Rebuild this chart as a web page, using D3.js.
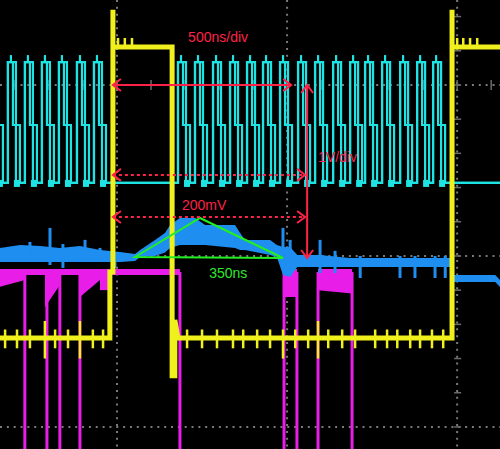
<!DOCTYPE html>
<html>
<head>
<meta charset="utf-8">
<script src="https://cdn.jsdelivr.net/npm/d3@7"></script>
<style>
  body { margin: 0; background: #000; }
  svg { display: block; }
</style>
</head>
<body>
<svg width="500" height="449"></svg>
<script>
// time in ns (0 = trigger), level in divisions (0 = middle graticule line)
var gridTimes = [-500, 0, 500, 1000],
    gridLevels = [-1, 0, 1];

// CH2 (cyan) clock pulses, centre of each pulse
var cyanPulses = [-356, -306, -256, -206, -156, -103, -53,
    194, 244, 297, 347, 397, 444, 494, 547, 597, 650, 700, 744, 794, 847, 897, 944];
var cyanLow = 0.427, cyanMid = 0.766, cyanHigh = 1.134;

// CH1 (yellow)
var yellowPath = [[-344, -0.48], [-21, -0.48], [-21, -0.094], [-12, -0.094], [-12, 1.44], [-12, 1.222],
    [162, 1.222], [162, -0.70], [170, -0.70], [170, -0.374], [179, -0.48],
    [985, -0.48], [985, 1.44], [985, 1.222], [1126, 1.222]];
var yellowSpikes = [[-329, -0.43, -0.54], [-294, -0.43, -0.54], [-256, -0.43, -0.54], [-212, -0.38, -0.60],
    [-182, -0.43, -0.54], [-144, -0.43, -0.54], [-109, -0.38, -0.60], [-71, -0.43, -0.54], [-41, -0.43, -0.54],
    [206, -0.43, -0.54], [250, -0.43, -0.54], [294, -0.43, -0.54], [341, -0.43, -0.54], [371, -0.43, -0.54],
    [412, -0.43, -0.54], [450, -0.43, -0.54], [488, -0.43, -0.60], [524, -0.43, -0.54], [562, -0.43, -0.54],
    [591, -0.38, -0.60], [621, -0.43, -0.54], [662, -0.43, -0.54], [700, -0.43, -0.54], [759, -0.43, -0.54],
    [794, -0.43, -0.54], [824, -0.43, -0.54], [862, -0.43, -0.54], [891, -0.43, -0.54], [926, -0.43, -0.54],
    [959, -0.43, -0.54]];
var yellowGlitches = [3, 23, 44, 1000, 1018, 1038, 1059];

// CH3 (blue) envelope: time, top, bottom
var blueBand = [[-344, 0.047, -0.035], [-285, 0.064, -0.035], [-226, 0.058, -0.035], [-168, 0.047, -0.035],
    [-109, 0.058, -0.035], [-50, 0.035, -0.035], [9, 0.023, -0.035], [53, 0.012, -0.03], [68, 0.035, -0.006],
    [112, 0.094, 0.0], [141, 0.135, 0.02], [156, 0.181, 0.047], [185, 0.222, 0.064], [230, 0.222, 0.064],
    [259, 0.181, 0.064], [347, 0.181, 0.047], [362, 0.135, 0.035], [376, 0.094, 0.035], [450, 0.094, 0.006],
    [470, 0.064, -0.006], [488, 0.052, -0.111], [509, 0.052, -0.123], [530, 0.006, -0.064], [597, 0.006, -0.064],
    [685, -0.012, -0.064], [979, -0.012, -0.064], [985, -0.111, -0.152], [1112, -0.111, -0.152],
    [1126, -0.14, -0.181]];
var blueSpikes = [[-256, 0.082, 0], [-197, 0.164, -0.053], [-159, 0.07, -0.07], [-94, 0.094, 0], [-50, 0.047, 0],
    [-6, 0, -0.07], [488, 0.164, 0], [509, 0.094, 0], [597, 0.094, -0.1], [641, 0.03, -0.1], [715, 0, -0.129],
    [832, 0, -0.129], [876, 0, -0.129], [935, 0, -0.129], [965, 0, -0.129]];

// CH4 (magenta)
var magentaHigh = -0.094;
var magentaSegments = [[-344, 185], [491, 529], [591, 691]];
var magentaDrops = [-271, -206, -168, -109, 185, 491, 529, 591, 691];
var magentaBursts = [[-344, -271, -0.18, -0.14], [-212, -168, -0.30, -0.17], [-109, -50, -0.24, -0.14],
    [-50, -21, -0.20, -0.20], [491, 529, -0.24, -0.24], [591, 691, -0.20, -0.22]];

// annotations
var solidArrowsH = [[-12, 512, 1.0]],
    dottedArrowsH = [[-12, 553, 0.474], [-12, 553, 0.228]],
    solidArrowsV = [[559, 1.0, -0.012]];
var triangle = [[53, -0.006], [244, 0.222], [488, -0.012]];
var redLabels = [["500ns/div", 209, 1.251], ["1V/div", 591, 0.55], ["200mV", 191, 0.269]],
    greenLabels = [["350ns", 271, -0.129]];

var svg = d3.select("svg"),
    width = +svg.attr("width"),
    height = +svg.attr("height");

var x = d3.scaleLinear().domain([-344, 1126]).range([0, width]),
    y = d3.scaleLinear().domain([-1.129, 1.497]).range([height, 0]);

var line = d3.line()
    .x(function(d) { return x(d[0]); })
    .y(function(d) { return y(d[1]); });

svg.append("rect").attr("width", width).attr("height", height).attr("fill", "#000");

// graticule
var grid = svg.append("g")
    .attr("stroke", "#7a7a7a")
    .attr("stroke-width", 2)
    .attr("stroke-dasharray", "2,4.84");

grid.selectAll(".gv").data(gridTimes).enter().append("line")
    .attr("x1", function(d) { return x(d); }).attr("x2", function(d) { return x(d); })
    .attr("y1", 0).attr("y2", height);

grid.selectAll(".gh").data(gridLevels).enter().append("line")
    .attr("x1", 0).attr("x2", width)
    .attr("y1", function(d) { return y(d); }).attr("y2", function(d) { return y(d); });

var minor = svg.append("g").attr("stroke", "#6a6a6a").attr("stroke-width", 1.5);
minor.selectAll(".mt").data(d3.range(-300, 1126, 100)).enter().append("line")
    .attr("x1", function(d) { return x(d); }).attr("x2", function(d) { return x(d); })
    .attr("y1", y(1) - 5).attr("y2", y(1) + 5);
minor.selectAll(".ml").data(d3.range(-1, 1.5, 0.2)).enter().append("line")
    .attr("x1", x(1000) - 3).attr("x2", x(1000) + 4)
    .attr("y1", function(d) { return y(d); }).attr("y2", function(d) { return y(d); });

// CH4 magenta
var mag = svg.append("g").attr("fill", "#e81ee8").attr("stroke", "#e81ee8");
mag.selectAll(".burst").data(magentaBursts).enter().append("path")
    .attr("stroke", "none")
    .attr("d", function(d) {
        return line([[d[0], magentaHigh], [d[1], magentaHigh], [d[1], d[3]], [d[0], d[2]]]) + "Z";
    });
mag.selectAll(".seg").data(magentaSegments).enter().append("line")
    .attr("stroke-width", 6)
    .attr("x1", function(d) { return x(d[0]); }).attr("x2", function(d) { return x(d[1]); })
    .attr("y1", y(magentaHigh)).attr("y2", y(magentaHigh));
mag.selectAll(".drop").data(magentaDrops).enter().append("line")
    .attr("stroke-width", 3)
    .attr("x1", function(d) { return x(d); }).attr("x2", function(d) { return x(d); })
    .attr("y1", y(magentaHigh)).attr("y2", height);

// CH3 blue
var blue = "#1e8ef0";
svg.append("path")
    .datum(blueBand)
    .attr("fill", blue)
    .attr("d", d3.area()
        .x(function(d) { return x(d[0]); })
        .y0(function(d) { return y(d[2]); })
        .y1(function(d) { return y(d[1]); }));
svg.append("g").attr("stroke", blue).attr("stroke-width", 3)
  .selectAll("line").data(blueSpikes).enter().append("line")
    .attr("x1", function(d) { return x(d[0]); }).attr("x2", function(d) { return x(d[0]); })
    .attr("y1", function(d) { return y(d[1]); }).attr("y2", function(d) { return y(d[2]); });

// CH2 cyan: two overlaid captures, one with a half-level step on the falling edge
var cyan = "#1ee3e3",
    yl = y(cyanLow), ym = y(cyanMid), yh = y(cyanHigh);
var pa = "M0," + yl, pb = "M0," + yl;
cyanPulses.forEach(function(c) {
    var cx = x(c);
    pa += "L" + (cx - 5) + "," + yl + "L" + (cx - 5) + "," + yh + "L" + (cx + 3) + "," + yh + "L" + (cx + 3) + "," + yl;
    pb += "L" + (cx - 5) + "," + yl + "L" + (cx - 5) + "," + yh + "L" + cx + "," + yh + "L" + cx + "," + ym +
        "L" + (cx + 7) + "," + ym + "L" + (cx + 7) + "," + yl;
});
pa += "L" + width + "," + yl;
pb += "L" + width + "," + yl;
var cy = svg.append("g").attr("fill", "none").attr("stroke", cyan).attr("stroke-width", 2.2);
cy.append("path").attr("d", pa);
cy.append("path").attr("d", pb);
cy.selectAll(".pk").data(cyanPulses).enter().append("line")
    .attr("x1", function(d) { return x(d) - 2; }).attr("x2", function(d) { return x(d) - 2; })
    .attr("y1", yh).attr("y2", yh - 7);
cy.selectAll(".blk").data(cyanPulses).enter().append("rect")
    .attr("stroke", "none").attr("fill", cyan)
    .attr("x", function(d) { return x(d) + 1; }).attr("y", yl - 3)
    .attr("width", 6).attr("height", 7);

// CH1 yellow
var yellow = "#f0f01c";
var yg = svg.append("g").attr("stroke", yellow).attr("fill", "none");
yg.append("path").datum(yellowPath).attr("stroke-width", 5).attr("d", line);
yg.selectAll(".sp").data(yellowSpikes).enter().append("line")
    .attr("stroke-width", 2.5)
    .attr("x1", function(d) { return x(d[0]); }).attr("x2", function(d) { return x(d[0]); })
    .attr("y1", function(d) { return y(d[1]); }).attr("y2", function(d) { return y(d[2]); });
yg.selectAll(".gl").data(yellowGlitches).enter().append("line")
    .attr("stroke-width", 2.5)
    .attr("x1", function(d) { return x(d); }).attr("x2", function(d) { return x(d); })
    .attr("y1", y(1.222)).attr("y2", y(1.275));

// green triangle
svg.append("path")
    .datum(triangle)
    .attr("fill", "none")
    .attr("stroke", "#22ee22")
    .attr("stroke-width", 2)
    .attr("d", function(d) { return line(d) + "Z"; });

// red measurement arrows
var red = "#ff2248";
var ar = svg.append("g").attr("stroke", red).attr("stroke-width", 2).attr("fill", "none");

function hArrow(d) {
    var x0 = x(d[0]), x1 = x(d[1]), yy = y(d[2]);
    return "M" + x0 + "," + yy + "L" + x1 + "," + yy +
        "M" + (x0 + 8) + "," + (yy - 6) + "L" + x0 + "," + yy + "L" + (x0 + 8) + "," + (yy + 6) +
        "M" + (x1 - 8) + "," + (yy - 6) + "L" + x1 + "," + yy + "L" + (x1 - 8) + "," + (yy + 6);
}

ar.selectAll(".sh").data(solidArrowsH).enter().append("path").attr("d", hArrow);
ar.selectAll(".dh").data(dottedArrowsH).enter().append("g").each(function(d) {
    var g = d3.select(this), x0 = x(d[0]), x1 = x(d[1]), yy = y(d[2]);
    g.append("line").attr("x1", x0).attr("x2", x1).attr("y1", yy).attr("y2", yy)
        .attr("stroke-dasharray", "3,3");
    g.append("path").attr("d",
        "M" + (x0 + 8) + "," + (yy - 6) + "L" + x0 + "," + yy + "L" + (x0 + 8) + "," + (yy + 6) +
        "M" + (x1 - 8) + "," + (yy - 6) + "L" + x1 + "," + yy + "L" + (x1 - 8) + "," + (yy + 6));
});
ar.selectAll(".sv").data(solidArrowsV).enter().append("path")
    .attr("d", function(d) {
        var xx = x(d[0]), y0 = y(d[1]), y1 = y(d[2]);
        return "M" + xx + "," + y0 + "L" + xx + "," + y1 +
            "M" + (xx - 6) + "," + (y0 + 8) + "L" + xx + "," + y0 + "L" + (xx + 6) + "," + (y0 + 8) +
            "M" + (xx - 6) + "," + (y1 - 8) + "L" + xx + "," + y1 + "L" + (xx + 6) + "," + (y1 - 8);
    });

// labels
var labels = svg.append("g")
    .attr("font-family", "'Liberation Sans', Arial, sans-serif")
    .attr("font-size", 14);
labels.selectAll(".rl").data(redLabels).enter().append("text")
    .attr("fill", red)
    .attr("x", function(d) { return x(d[1]); })
    .attr("y", function(d) { return y(d[2]); })
    .text(function(d) { return d[0]; });
labels.selectAll(".gl").data(greenLabels).enter().append("text")
    .attr("fill", "#2ee82e")
    .attr("x", function(d) { return x(d[1]); })
    .attr("y", function(d) { return y(d[2]); })
    .text(function(d) { return d[0]; });
</script>
</body>
</html>
